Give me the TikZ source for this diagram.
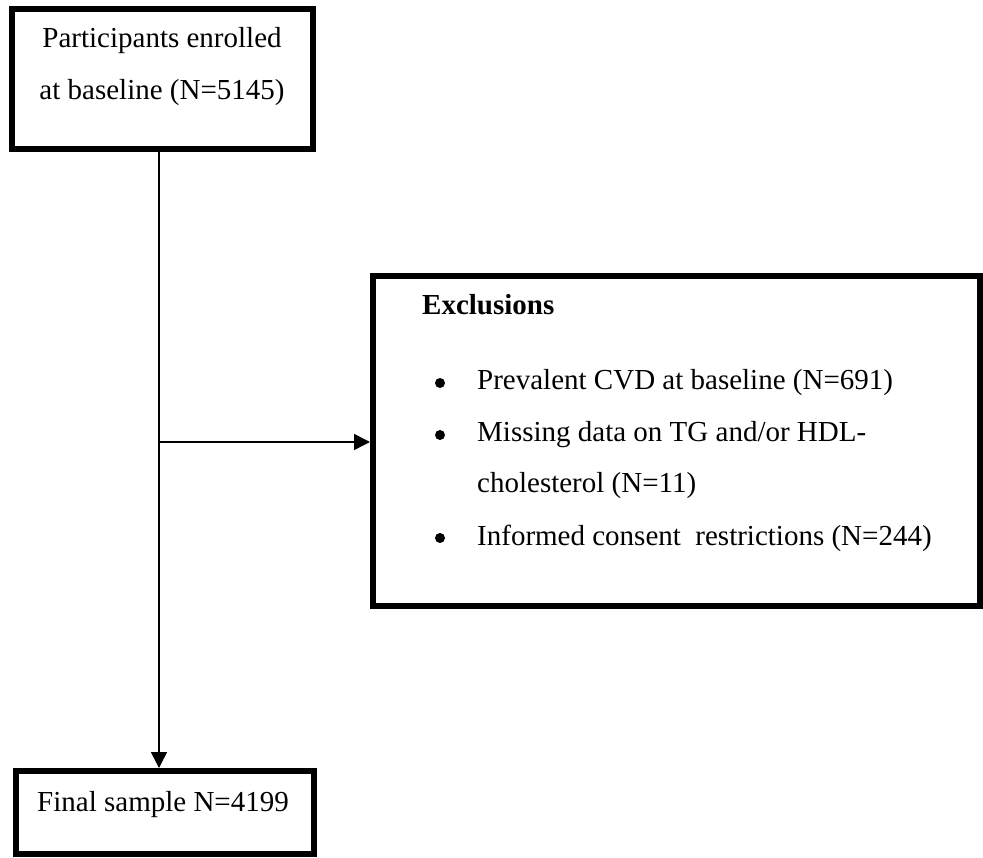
\documentclass[tikz,border=0pt]{standalone}
\usepackage{fontspec}
\setmainfont{Liberation Serif}
\usetikzlibrary{arrows.meta}
\begin{document}
\begin{tikzpicture}[x=1pt,y=-1pt,
  box/.style={draw,line width=6pt,rectangle,inner sep=0pt},
  txt/.style={inner sep=0pt,font=\fontsize{29}{34}\selectfont},
  dotmark/.style={circle,fill,inner sep=0pt,minimum size=10pt},
  conn/.style={line width=1.5pt,-{Triangle[length=16pt,width=16pt]}}]
\useasboundingbox (0,0) rectangle (983,858);
% boxes
\node[box,minimum width=301pt,minimum height=140pt] (top) at (162.5,79) {};
\node[box,minimum width=607pt,minimum height=330pt] (excl) at (676.5,441) {};
\node[box,minimum width=298pt,minimum height=83pt] (bot) at (165,812.5) {};
% texts
\node[txt,anchor=base] (t1) at (162,48) {Participants enrolled};
\node[txt,anchor=base] (t2) at (162,100) {at baseline (N=5145)};
\node[txt,anchor=base west,font=\fontsize{29}{34}\selectfont\bfseries] (ex) at (422,315) {Exclusions};
\node[dotmark] (b1) at (440,383) {};
\node[dotmark] (b2) at (440,435) {};
\node[dotmark] (b3) at (440,538) {};
\node[txt,anchor=base west] (l1) at (477,390) {Prevalent CVD at baseline (N=691)};
\node[txt,anchor=base west] (l2) at (477,442) {Missing data on TG and/or HDL-};
\node[txt,anchor=base west] (l3) at (477,493) {cholesterol (N=11)};
\node[txt,anchor=base west] (l4) at (477,545) {Informed consent~ restrictions (N=244)};
\node[txt,anchor=base] (fs) at (163,811) {Final sample N=4199};
% connectors
\coordinate (j) at (159,442);
\draw[conn] (top.south -| j) -- (bot.north -| j);
\draw[conn] (j) -- (excl.west |- j);
\end{tikzpicture}
\end{document}
